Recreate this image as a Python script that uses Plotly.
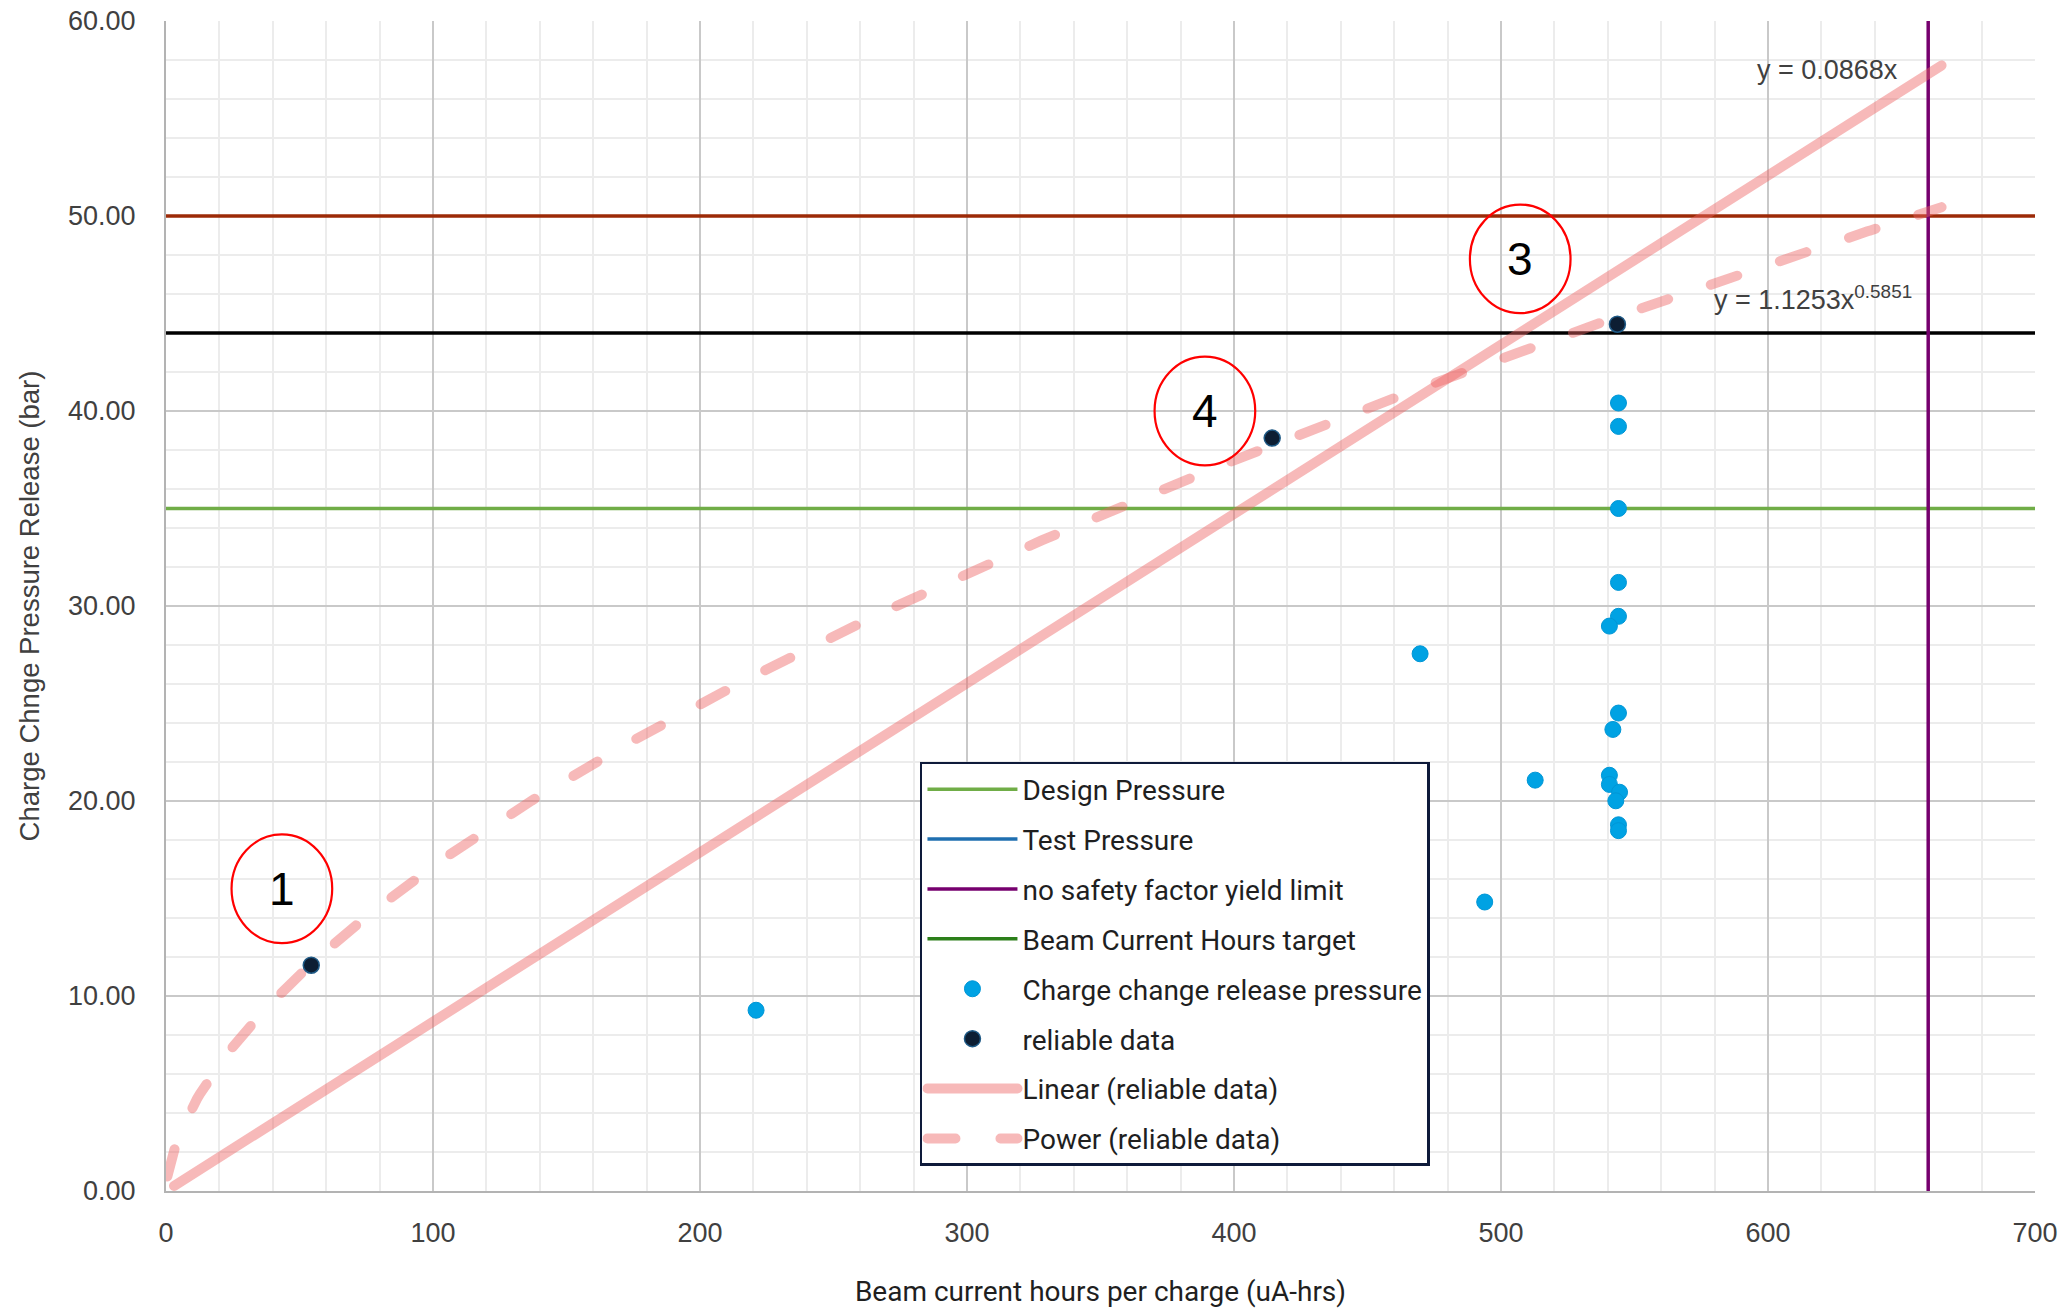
import numpy as np
import plotly.graph_objects as go

# ---- measured data -------------------------------------------------------
# Charge change release pressure, all charges (uA-hrs, bar)
charge_hours = [221.0, 469.7, 493.9, 512.8, 544.0, 544.0, 544.0, 544.0, 544.0,
                540.6, 544.0, 541.9, 540.6, 540.6, 544.4, 543.0, 544.0, 544.0]
charge_pressure = [9.27, 27.55, 14.82, 21.07, 40.41, 39.21, 35.00, 31.21, 29.47,
                   28.97, 24.51, 23.67, 21.32, 20.85, 20.45, 20.01, 18.78, 18.48]

# Charges considered reliable (used for the trendlines)
reliable_hours = [54.4, 414.3, 543.6]
reliable_pressure = [11.58, 38.61, 44.45]

# Reference limits
design_pressure = 35.0
upper_pressure_line = 50.0
lower_pressure_line = 44.0
yield_limit_hours = 660.0

# Trendline equations fitted to the reliable data
linear_slope = 0.0868
power_coef = 1.1253
power_exp = 0.5851
linear_start, power_start, trend_end = 3.0, 0.5, 665.0

# Numbered callouts
callout_labels = ["1", "4", "3"]
callout_x = [43.4, 389.1, 507.2]
callout_y = [15.5, 40.0, 47.8]
callout_w = 37.7   # ellipse width, x units
callout_h = 5.57   # ellipse height, y units

x_range = [0, 700]
y_range = [0, 60]

# ---- styling -------------------------------------------------------------
TICK_FONT = dict(family="Liberation Sans, Arial, sans-serif", size=27, color="#404040")
LEG_FONT = dict(family="Roboto, Liberation Sans, sans-serif", size=28, color="#1f1f1f")
TREND_COLOR = "rgba(238,100,100,0.45)"

fig = go.Figure()

# Reference lines (drawn first so everything else sits on top)
fig.add_trace(go.Scatter(x=x_range, y=[upper_pressure_line] * 2, mode="lines",
                         line=dict(color="#9c2a07", width=3.5), showlegend=False,
                         hoverinfo="skip"))
fig.add_trace(go.Scatter(x=x_range, y=[lower_pressure_line] * 2, mode="lines",
                         line=dict(color="#000000", width=3.5), showlegend=False,
                         hoverinfo="skip"))
fig.add_trace(go.Scatter(x=x_range, y=[design_pressure] * 2, mode="lines",
                         name="Design Pressure", legendgroup="g1", legendrank=1,
                         line=dict(color="#70ad47", width=3.5)))
fig.add_trace(go.Scatter(x=[None], y=[None], mode="lines",
                         name="Test Pressure", legendgroup="g2", legendrank=2,
                         line=dict(color="#1f6fb0", width=3.5)))
fig.add_trace(go.Scatter(x=[yield_limit_hours] * 2, y=y_range, mode="lines",
                         name="no safety factor yield limit", legendgroup="g3", legendrank=3,
                         line=dict(color="#76006e", width=3.5)))
fig.add_trace(go.Scatter(x=[None], y=[None], mode="lines",
                         name="Beam Current Hours target", legendgroup="g4", legendrank=4,
                         line=dict(color="#2c7f1a", width=3.5)))

# Trendlines from the fitted equations
lin_x = np.array([linear_start, trend_end])
fig.add_trace(go.Scatter(x=lin_x, y=linear_slope * lin_x, mode="lines",
                         name="Linear (reliable data)", legendgroup="g7", legendrank=7,
                         line=dict(color=TREND_COLOR, width=10)))
pow_x = np.linspace(power_start, trend_end, 600)
fig.add_trace(go.Scatter(x=pow_x, y=power_coef * pow_x ** power_exp, mode="lines",
                         name="Power (reliable data)", legendgroup="g8", legendrank=8,
                         line=dict(color=TREND_COLOR, width=10, dash="28px,45px")))

# Data points
fig.add_trace(go.Scatter(x=charge_hours, y=charge_pressure, mode="markers",
                         name="Charge change release pressure", legendgroup="g5", legendrank=5,
                         marker=dict(color="#00a2e3", size=16,
                                     line=dict(color="#0096d6", width=1))))
fig.add_trace(go.Scatter(x=reliable_hours, y=reliable_pressure, mode="markers",
                         name="reliable data", legendgroup="g6", legendrank=6,
                         marker=dict(color="#0d1e33", size=16,
                                     line=dict(color="#1f5a86", width=1.5))))

# Callout ellipses and numbers
for lab, cx, cy in zip(callout_labels, callout_x, callout_y):
    fig.add_shape(type="circle", xref="x", yref="y",
                  x0=cx - callout_w / 2, x1=cx + callout_w / 2,
                  y0=cy - callout_h / 2, y1=cy + callout_h / 2,
                  line=dict(color="#ff0000", width=2.2))
    fig.add_annotation(x=cx, y=cy, text=lab, showarrow=False,
                       font=dict(family="Liberation Sans, Arial, sans-serif",
                                 size=46, color="#000000"))

# Trendline equations
fig.add_annotation(x=649.4, y=57.5, text="y = 0.0868x", showarrow=False,
                   xanchor="right", yanchor="middle", font=TICK_FONT)
fig.add_annotation(x=654.5, y=45.8, text="y = 1.1253x<sup>0.5851</sup>", showarrow=False,
                   xanchor="right", yanchor="middle", font=TICK_FONT)

axis_common = dict(showline=True, linecolor="#b3b3b3", linewidth=2,
                   gridcolor="#c9c9c9", gridwidth=2, zeroline=False,
                   tickfont=TICK_FONT, ticks="", showspikes=False)

fig.update_xaxes(range=x_range, dtick=100, tick0=0,
                 minor=dict(dtick=20, showgrid=True, gridcolor="#ececec", gridwidth=2),
                 title=dict(text="Beam current hours per charge (uA-hrs)",
                            font=LEG_FONT, standoff=38),
                 ticklabelstandoff=17, **axis_common)
fig.update_yaxes(range=y_range, dtick=10, tick0=0, tickformat=".2f",
                 minor=dict(dtick=2, showgrid=True, gridcolor="#ececec", gridwidth=2),
                 title=dict(text="Charge Chnge Pressure Release (bar)",
                            font=dict(family="Liberation Sans, Arial, sans-serif",
                                      size=27.5, color="#404040"), standoff=20),
                 ticklabelstandoff=23, **axis_common)

fig.update_layout(
    width=2064, height=1308,
    margin=dict(l=166, r=29, t=21, b=117, autoexpand=False),
    paper_bgcolor="white", plot_bgcolor="white",
    legend=dict(x=0.4034, y=0.3667, xanchor="left", yanchor="top",
                bgcolor="white", bordercolor="#0e1a3a", borderwidth=2.5,
                font=LEG_FONT, itemwidth=90, tracegroupgap=10.5,
                traceorder="grouped"),
)

post = """
document.body.style.margin = '0';
var gd = document.getElementById('{plot_id}');
function roundCaps() {
  gd.querySelectorAll('path.js-line').forEach(function (p) {
    if (parseFloat(p.style.strokeWidth) >= 8) { p.style.strokeLinecap = 'round'; }
  });
}
roundCaps();
gd.on('plotly_afterplot', roundCaps);
"""

fig.write_html("out.html", post_script=post)
